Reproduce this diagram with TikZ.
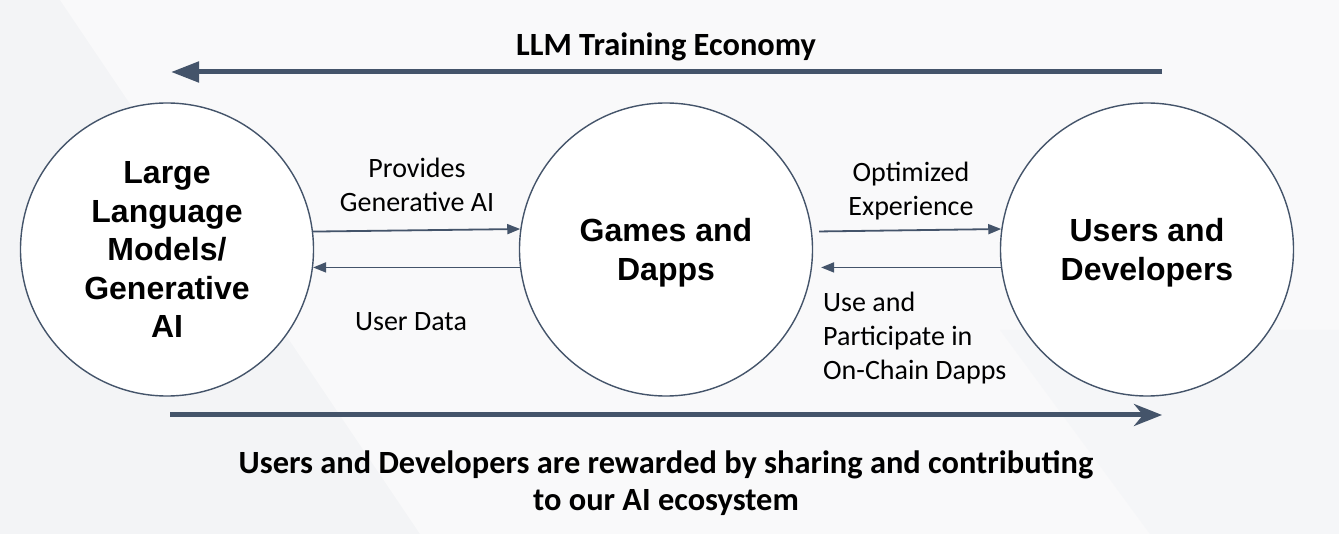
\documentclass[tikz,border=0pt]{standalone}
\usepackage{fontspec}
\setmainfont{Carlito}
\newfontfamily\arialfont{Liberation Sans}
\usetikzlibrary{arrows.meta,calc}
\definecolor{slate}{HTML}{44546A}
\definecolor{bgA}{HTML}{F3F4F6}
\definecolor{bgB}{HTML}{F9F9FA}
\begin{document}
\begin{tikzpicture}[x=1pt,y=-1pt,
  bubble/.style={circle,draw=slate,line width=1.4pt,fill=white,minimum size=293pt,inner sep=0pt,align=center,
    font=\arialfont\bfseries\fontsize{32}{38.5}\selectfont},
  elabel/.style={align=center,inner sep=0pt,font=\fontsize{28}{34}\selectfont},
  title/.style={align=center,inner sep=0pt,font=\bfseries\fontsize{32.4}{37.5}\selectfont},
  bigarrow/.style={draw=slate,line width=5pt},
  smallarrow/.style={draw=slate,line width=1.8pt,-{Triangle[length=13pt,width=10pt]}}
]
% background
\fill[bgA] (0,0) rectangle (1339,534);
\fill[bgB] (60,0) -- (1339,0) -- (1339,534) -- (420,534) -- cycle;
\fill[bgA!60!bgB] (1150,534) -- (1000,330) -- (1339,330) -- (1339,534) -- cycle;
\useasboundingbox (0,0) rectangle (1339,534);

% circles
\node[bubble] (llm) at (167,249.5) {Large\\Language\\Models/\\Generative\\AI};
\node[bubble,text depth=0pt] (games) at (666,249.5) {Games and\\Dapps};
\node[bubble,text depth=0pt] (users) at (1147,249.5) {Users and\\Developers};

% big arrows
\coordinate (topR) at (1162,72);
\coordinate (topL) at (171,72);
\draw[bigarrow,-{Triangle[length=28pt,width=20pt]}] (topR) -- (topL);
\coordinate (botL) at (170,415);
\coordinate (botR) at (1162,415);
\draw[bigarrow,-{Stealth[length=28pt,width=22pt,inset=9pt]}] (botL) -- (botR);

% small arrows
\draw[smallarrow] (llm.7.4) -- (games.172.6);
\draw[smallarrow] (games.187.4) -- (llm.-7.4);
\draw[smallarrow,shorten <=7pt] (games.7.4) -- (users.172.6);
\draw[smallarrow,shorten >=9pt] (users.187.4) -- (games.-7.4);

% labels
\node[title] (ttl) at (666,47) {LLM Training Economy};
\node[title] (btm) at (666,483) {Users and Developers are rewarded by sharing and contributing\\to our AI ecosystem};
\node[elabel] (lprov) at (417,185) {Provides\\Generative AI};
\node[elabel] (ludata) at (411,322) {User Data};
\node[elabel] (lopt) at (911,191) {Optimized\\Experience};
\node[elabel,align=left,anchor=west] (luse) at (823,338) {Use and\\Participate in\\On-Chain Dapps};
\end{tikzpicture}
\end{document}
